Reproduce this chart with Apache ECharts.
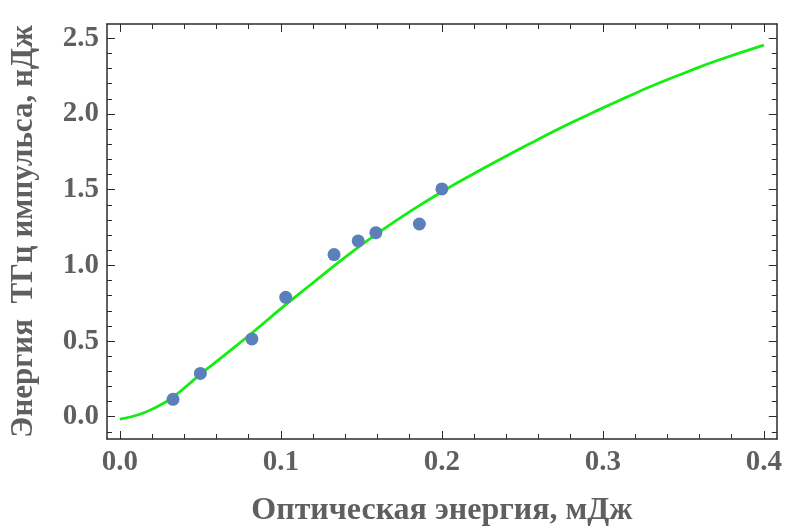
<!DOCTYPE html>
<html>
<head>
<meta charset="utf-8">
<script src="https://cdn.jsdelivr.net/npm/echarts@6/dist/echarts.min.js"></script>
<style>
  html, body { margin: 0; padding: 0; background: #fff; }
  #chart { width: 785px; height: 532px; }
</style>
</head>
<body>
<div id="chart"></div>
<script>
// measured points
const pointX = [0.033, 0.050, 0.082, 0.103, 0.133, 0.148, 0.159, 0.186, 0.200];
const pointY = [0.115, 0.286, 0.514, 0.789, 1.071, 1.161, 1.216, 1.273, 1.505];

// fitted curve
const curveX = [0.000, 0.012, 0.023, 0.033, 0.050, 0.066, 0.082, 0.103, 0.120, 0.141, 0.1615, 0.182, 0.203, 0.220, 0.238, 0.258, 0.279, 0.300, 0.316, 0.330, 0.351, 0.371, 0.400];
const curveY = [-0.015, 0.015, 0.066, 0.130, 0.280, 0.415, 0.553, 0.740, 0.885, 1.063, 1.222, 1.368, 1.505, 1.607, 1.711, 1.822, 1.935, 2.040, 2.117, 2.183, 2.272, 2.353, 2.455];

// tick labels
const xMajor = [0, 0.1, 0.2, 0.3, 0.4];
const xMinor = [0.02, 0.04, 0.06, 0.08, 0.12, 0.14, 0.16, 0.18, 0.22, 0.24, 0.26, 0.28, 0.32, 0.34, 0.36, 0.38];
const yMajor = [0, 0.5, 1.0, 1.5, 2.0, 2.5];
const yMinor = [-0.1, 0.1, 0.2, 0.3, 0.4, 0.6, 0.7, 0.8, 0.9, 1.1, 1.2, 1.3, 1.4, 1.6, 1.7, 1.8, 1.9, 2.1, 2.2, 2.3, 2.4];

const X_MIN = -0.008, X_MAX = 0.408;
const Y_MIN = -0.147, Y_MAX = 2.594;

const frameColor = '#2b2b2b';
const labelColor = '#5f5f5f';
const fontFamily = '"Liberation Serif", "Times New Roman", serif';

function makeAxis(kind, position, ticks, tickLen, withLabels, withLine) {
    const ax = {
        type: 'value',
        position: position,
        min: kind === 'x' ? X_MIN : Y_MIN,
        max: kind === 'x' ? X_MAX : Y_MAX,
        splitLine: { show: false },
        axisLine: { show: withLine, onZero: false, lineStyle: { color: frameColor, width: 1.5 } },
        axisTick: { show: true, inside: true, length: tickLen, customValues: ticks, lineStyle: { color: frameColor, width: 1 } },
        axisLabel: { show: false }
    };
    if (withLabels) {
        ax.axisLabel = {
            show: true,
            customValues: ticks,
            margin: kind === 'x' ? 9 : 8,
            color: labelColor,
            fontFamily: fontFamily,
            fontWeight: 'bold',
            fontSize: 29,
            formatter: (v) => v.toFixed(1)
        };
    }
    return ax;
}

const chart = echarts.init(document.getElementById('chart'));

const xAxes = [
    makeAxis('x', 'bottom', xMajor, 8, true, true),
    makeAxis('x', 'top', xMajor, 8, false, true),
    makeAxis('x', 'bottom', xMinor, 5, false, false),
    makeAxis('x', 'top', xMinor, 5, false, false)
];
xAxes[0].name = 'Оптическая энергия, мДж';
xAxes[0].nameLocation = 'middle';
xAxes[0].nameGap = 56;
xAxes[0].nameTextStyle = { color: labelColor, fontFamily: fontFamily, fontWeight: 'bold', fontSize: 32 };

const yAxes = [
    makeAxis('y', 'left', yMajor, 8, true, true),
    makeAxis('y', 'right', yMajor, 8, false, true),
    makeAxis('y', 'left', yMinor, 5, false, false),
    makeAxis('y', 'right', yMinor, 5, false, false)
];
yAxes[0].name = 'Энергия  ТГц импульса, нДж';
yAxes[0].nameLocation = 'middle';
yAxes[0].nameGap = 68;
yAxes[0].nameTextStyle = { color: labelColor, fontFamily: fontFamily, fontWeight: 'bold', fontSize: 31 };

chart.setOption({
    animation: false,
    backgroundColor: '#ffffff',
    grid: { left: 105, top: 24, right: 6, bottom: 90, containLabel: false },
    xAxis: xAxes,
    yAxis: yAxes,
    series: [
        {
            type: 'line',
            data: curveX.map((x, i) => [x, curveY[i]]),
            smooth: true,
            showSymbol: false,
            lineStyle: { color: '#12ee12', width: 2.8 },
            z: 2
        },
        {
            type: 'scatter',
            data: pointX.map((x, i) => [x, pointY[i]]),
            symbolSize: 13,
            itemStyle: { color: '#5b7fb8', opacity: 1 },
            z: 3
        }
    ]
});
</script>
</body>
</html>
